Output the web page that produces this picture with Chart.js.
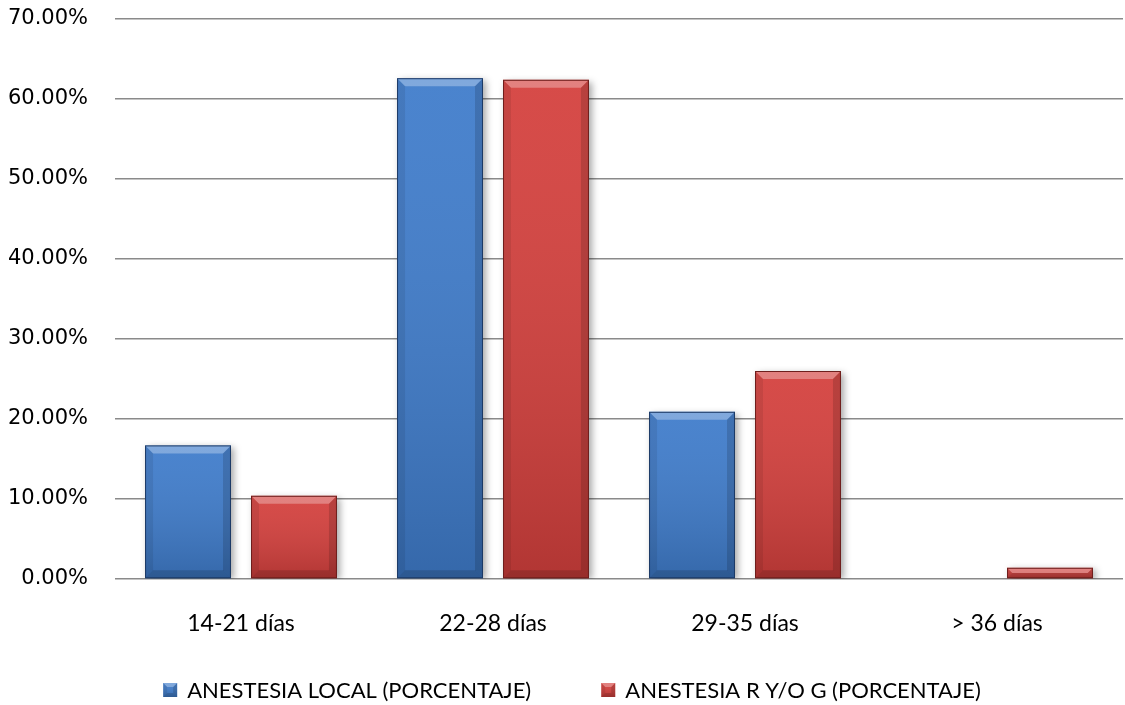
<!DOCTYPE html>
<html>
<head>
<meta charset="utf-8">
<script src="https://cdn.jsdelivr.net/npm/chart.js@4/dist/chart.umd.min.js"></script>
<style>
  html, body { margin: 0; padding: 0; background: #ffffff; }
  #wrap { width: 1125px; height: 705px; }
</style>
</head>
<body>
<div id="wrap"><canvas id="c" width="1125" height="705"></canvas></div>
<script>
// Días de recuperación por tipo de anestesia (porcentaje de pacientes)
const categories = ['14-21 días', '22-28 días', '29-35 días', '> 36 días'];
const seriesNames = ['ANESTESIA LOCAL (PORCENTAJE)', 'ANESTESIA R Y/O G (PORCENTAJE)'];
const anestesiaLocal = [16.7, 62.6, 20.9, 0];
const anestesiaRyG = [10.4, 62.4, 26.0, 1.4];
const yTicks = [0, 10, 20, 30, 40, 50, 60, 70];

const palette = [
  { fill: '#3f7ccb', dark: '#1d3a66' },
  { fill: '#d4403d', dark: '#6e1f1d' }
];

// soft drop shadow under the bars
const barShadow = {
  id: 'barShadow',
  beforeDatasetsDraw(chart) {
    const ctx = chart.ctx;
    ctx.save();
    ctx.shadowColor = 'rgba(0,0,0,0.35)';
    ctx.shadowBlur = 7;
    ctx.shadowOffsetX = 3;
    ctx.shadowOffsetY = 2;
  },
  afterDatasetsDraw(chart) {
    chart.ctx.restore();
  }
};

// bevelled look: shading gradient, lit top edge, darker sides
function bevel(ctx, left, right, top, bottom, b) {
  const g = ctx.createLinearGradient(0, top, 0, bottom);
  g.addColorStop(0, 'rgba(255,255,255,0.06)');
  g.addColorStop(1, 'rgba(0,0,0,0.16)');
  ctx.fillStyle = g;
  ctx.fillRect(left, top, right - left, bottom - top);
  const bb = Math.min(b, (bottom - top) / 2, (right - left) / 2);
  ctx.fillStyle = 'rgba(255,255,255,0.30)';
  ctx.beginPath();
  ctx.moveTo(left, top); ctx.lineTo(right, top);
  ctx.lineTo(right - bb, top + bb); ctx.lineTo(left + bb, top + bb);
  ctx.closePath(); ctx.fill();
  ctx.fillStyle = 'rgba(0,0,0,0.08)';
  ctx.beginPath();
  ctx.moveTo(left, top); ctx.lineTo(left + bb, top + bb);
  ctx.lineTo(left + bb, bottom - bb); ctx.lineTo(left, bottom);
  ctx.closePath(); ctx.fill();
  ctx.fillStyle = 'rgba(0,0,0,0.14)';
  ctx.beginPath();
  ctx.moveTo(right, top); ctx.lineTo(right - bb, top + bb);
  ctx.lineTo(right - bb, bottom - bb); ctx.lineTo(right, bottom);
  ctx.closePath(); ctx.fill();
  ctx.fillStyle = 'rgba(0,0,0,0.14)';
  ctx.beginPath();
  ctx.moveTo(left, bottom); ctx.lineTo(left + bb, bottom - bb);
  ctx.lineTo(right - bb, bottom - bb); ctx.lineTo(right, bottom);
  ctx.closePath(); ctx.fill();
}

const barBevel = {
  id: 'barBevel',
  afterDatasetsDraw(chart) {
    const ctx = chart.ctx;
    chart.data.datasets.forEach((ds, i) => {
      const meta = chart.getDatasetMeta(i);
      meta.data.forEach(el => {
        const p = el.getProps(['x', 'y', 'base', 'width'], true);
        if (Math.abs(p.base - p.y) < 1) return;
        const left = p.x - p.width / 2, right = p.x + p.width / 2;
        ctx.save();
        bevel(ctx, left, right, Math.min(p.y, p.base), Math.max(p.y, p.base), 8);
        ctx.strokeStyle = palette[i].dark;
        ctx.lineWidth = 1;
        ctx.strokeRect(left + 0.5, Math.min(p.y, p.base) + 0.5, p.width - 1, Math.abs(p.base - p.y) - 1);
        ctx.restore();
      });
    });
  }
};

// legend row under the category labels
const bottomLegend = {
  id: 'bottomLegend',
  afterDraw(chart) {
    const ctx = chart.ctx;
    ctx.save();
    ctx.font = '22px Lato, "Open Sans", sans-serif';
    ctx.textBaseline = 'middle';
    const box = 14, gap = 10, spacing = 70, y = 690;
    const widths = chart.data.datasets.map(d => ctx.measureText(d.label).width);
    const total = widths.reduce((a, w) => a + box + gap + w, 0) + spacing * (widths.length - 1);
    let x = 572 - total / 2;
    chart.data.datasets.forEach((d, i) => {
      ctx.fillStyle = palette[i].fill;
      ctx.fillRect(x, y - box / 2, box, box);
      bevel(ctx, x, x + box, y - box / 2, y + box / 2, 4);
      ctx.fillStyle = '#000000';
      ctx.textAlign = 'left';
      ctx.fillText(d.label, x + box + gap, y + 1);
      x += box + gap + widths[i] + spacing;
    });
    ctx.restore();
  }
};

new Chart(document.getElementById('c'), {
  type: 'bar',
  data: {
    labels: categories,
    datasets: [
      { label: seriesNames[0], data: anestesiaLocal, backgroundColor: palette[0].fill, borderWidth: 0 },
      { label: seriesNames[1], data: anestesiaRyG, backgroundColor: palette[1].fill, borderWidth: 0 }
    ]
  },
  options: {
    responsive: false,
    animation: false,
    devicePixelRatio: 1,
    layout: { padding: { left: 0, right: 2, top: 19, bottom: 0 } },
    datasets: { bar: { categoryPercentage: 0.841, barPercentage: 0.811 } },
    plugins: {
      legend: { display: false },
      tooltip: { enabled: false }
    },
    scales: {
      x: {
        grid: { display: false, drawTicks: false },
        border: { display: false },
        ticks: { color: '#000000', font: { family: 'Lato, "Open Sans", sans-serif', size: 23 }, padding: 31 },
        afterFit(scale) { scale.height = 126; }
      },
      y: {
        min: 0, max: 70,
        afterBuildTicks(scale) { scale.ticks = yTicks.map(v => ({ value: v })); },
        grid: { color: '#8a8a8a', lineWidth: 1.5, drawTicks: false },
        border: { display: false },
        ticks: {
          color: '#000000',
          font: { family: '"DejaVu Sans", Verdana, sans-serif', size: 21 },
          padding: 27,
          callback: v => v.toFixed(2) + '%'
        },
        afterFit(scale) {
          scale.width = 115;
          scale.paddingTop = 0;
          scale.paddingBottom = 0;
        }
      }
    }
  },
  plugins: [barShadow, barBevel, bottomLegend]
});
</script>
</body>
</html>
